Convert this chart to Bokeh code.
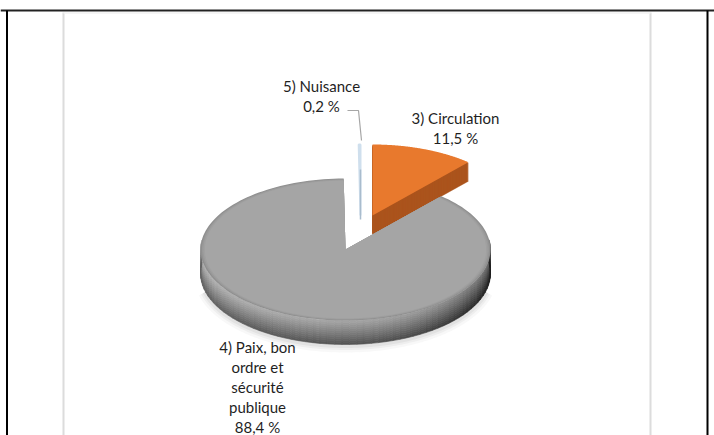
import numpy as np
from bokeh.plotting import figure
from bokeh.models import Range1d
from bokeh.embed import file_html
from bokeh.resources import INLINE
from bokeh.core.properties import value

# data
slice_names = ["3) Circulation", "4) Paix, bon ordre et sécurité publique", "5) Nuisance"]
slice_values = [11.5, 88.4, 0.2]
label_lines = [["3) Circulation", "11,5 %"],
               ["4) Paix, bon", "ordre et", "sécurité", "publique", "88,4 %"],
               ["5) Nuisance", "0,2 %"]]

W, H = 714, 435
p = figure(width=W, height=H, output_backend="svg", toolbar_location=None,
           x_range=Range1d(0, W), y_range=Range1d(H, 0), min_border=0,
           outline_line_color=None, background_fill_color="white")
p.xaxis.visible = False
p.yaxis.visible = False
p.grid.visible = False

RX, RY, DEPTH = 145, 71, 24
CX, CY = 345, 249
total = sum(slice_values)
fr = np.cumsum([0] + slice_values) / total * 2 * np.pi
exploded = [(27, -34), (0, 0), (14, -34)]


def wedge(a0, a1, cx, cy, n=160, s=1.0):
    t = np.linspace(a0, a1, n)
    return np.r_[cx, cx + s * RX * np.sin(t)], np.r_[cy, cy - s * RY * np.cos(t)]


def grey(v):
    v = int(np.clip(v, 0, 255))
    return f"#{v:02x}{v:02x}{v:02x}"


# soft shadow under the front of the pie, as wide faint strokes
t = np.linspace(np.pi * 0.58, np.pi * 1.42, 100)
for w, a in zip([14, 9, 5], [0.06, 0.08, 0.10]):
    p.line(CX + RX * np.sin(t), CY + DEPTH + 1 - RY * np.cos(t),
           line_color="#808080", line_alpha=a, line_width=w)

# 3) orange slice, side then top
ox, oy = CX + exploded[0][0], CY + exploded[0][1]
for d in np.arange(19, 0, -1.0):
    x, y = wedge(fr[0], fr[1], ox, oy + d)
    p.patch(x, y, fill_color="#ab541d", line_color="#ab541d", line_width=0.5)
x, y = wedge(fr[0], fr[1], ox, oy)
p.patch(x, y, fill_color="#e8792d", line_color=None)

# 5) very thin slice
bx, by = CX + exploded[2][0], CY + exploded[2][1]
x, y = wedge(fr[2], fr[3], bx + 1, by, n=4)
p.patch(x, y, fill_color="#cfdfed", line_color="#cfdfed", line_width=2)
p.line([bx + 1, bx + 1], [by - 46, by + 4], line_color="#a9bccd", line_width=1.5)

# 4) grey slice: rim shaded by angle and depth
rows = np.linspace(0, DEPTH, 13)
angs = np.linspace(fr[1], fr[2], 110)
xs, ys, cols = [], [], []
for i in range(len(rows) - 1):
    tt = (rows[i] + rows[i + 1]) / (2 * DEPTH)
    for j in range(len(angs) - 1):
        a0, a1 = angs[j], angs[j + 1]
        am = (a0 + a1) / 2
        if np.cos(am) > 0.12:
            continue
        right = max(np.sin(am), 0)
        left = max(-np.sin(am), 0)
        ridge = 166 - 84 * tt ** 1.1
        cols.append(grey(ridge + 14 * left - 55 * right ** 2.2))
        xs.append(list(CX + RX * np.sin([a0, a1, a1, a0])))
        ys.append(list(CY - RY * np.cos([a0, a1, a1, a0]) + np.array([rows[i], rows[i], rows[i + 1], rows[i + 1]])))
p.patches(xs, ys, fill_color=cols, line_color=cols, line_width=0.6)

# top of the grey slice, with a soft darker edge near the rim
for s, c in zip([1.0, 0.99, 0.98, 0.97], ["#8f8f8f", "#999999", "#a0a0a0", "#a5a5a5"]):
    x, y = wedge(fr[1], fr[2], CX, CY, s=s)
    p.patch(x, y, fill_color=c, line_color=None)

# frame
p.line([0, W], [10, 10], line_color="#222222", line_width=2)
p.line([6.5, 6.5], [10, H], line_color="#000000", line_width=2)
p.line([707, 707], [10, H], line_color="#000000", line_width=2)
p.line([63, 63], [12, H], line_color="#dcdcdc", line_width=2)
p.line([650, 650], [12, H], line_color="#dcdcdc", line_width=2)
p.line([63, 650], [12.5, 12.5], line_color="#f2f2f2", line_width=1.5)

# leader line
p.line([347, 358, 361], [110, 110, 140], line_color="#a6a6a6", line_width=1.2)

# labels
anchors = [(455, 117, 20), (257, 346, 20), (321, 85, 20)]
for lines, (ax, ay, dy) in zip(label_lines, anchors):
    for i, s in enumerate(lines):
        p.text([ax], [ay + i * dy], text=[s], text_align="center", text_baseline="middle",
               text_font=value("Lato"), text_font_size="15px", text_color="#1f1f1f")

open("out.html", "w").write(file_html(p, INLINE))
